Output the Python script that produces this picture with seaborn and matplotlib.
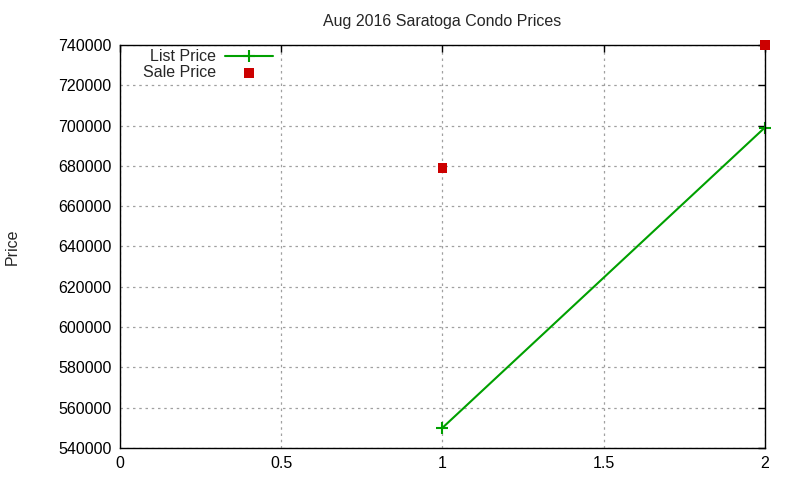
import matplotlib
matplotlib.use("Agg")
import matplotlib.pyplot as plt
import seaborn as sns
import pandas as pd
from matplotlib.ticker import FuncFormatter

x_list = [1, 2]
list_price = [550000, 699000]
x_sale = [1, 2]
sale_price = [679000, 740000]
title = "Aug 2016 Saratoga Condo Prices"
y_label = "Price"

sns.set_style("white")
plt.rcParams['font.family'] = ['Liberation Sans', 'DejaVu Sans']

fig = plt.figure(figsize=(8, 4.8), dpi=100)
ax = fig.add_axes([0.15, 0.0667, 0.806, 0.8396])

df_list = pd.DataFrame({"x": x_list, "y": list_price})
df_sale = pd.DataFrame({"x": x_sale, "y": sale_price})

sns.lineplot(data=df_list, x="x", y="y", ax=ax, color="#00a000", lw=1.5,
             marker="+", markersize=9, markeredgewidth=1.5, markeredgecolor="#00a000",
             clip_on=False)
sns.scatterplot(data=df_sale, x="x", y="y", ax=ax, color="#cc0000", marker="s", s=48,
                edgecolor="none", clip_on=False, zorder=5)

fs = 11.5
ax.set_xlim(0, 2)
ax.set_ylim(540000, 740000)
ax.set_xticks([0, 0.5, 1, 1.5, 2])
ax.set_yticks(range(540000, 740001, 20000))
ax.xaxis.set_major_formatter(FuncFormatter(lambda v, p: f"{v:g}"))
ax.yaxis.set_major_formatter(FuncFormatter(lambda v, p: f"{int(v)}"))
ax.tick_params(direction="in", length=5, width=1, top=True, right=True, labelsize=fs, colors="black", pad=6)
for s in ax.spines.values():
    s.set_color("black")
    s.set_linewidth(1)
ax.grid(True, color="#a0a0a0", linestyle=(0, (2, 3)), linewidth=0.9)
ax.set_axisbelow(True)
ax.set_xlabel("")
ax.set_ylabel(y_label, fontsize=fs)
ax.yaxis.set_label_coords(-0.155, 0.5)
ax.set_title(title, fontsize=fs, pad=14)

handles = [ax.lines[0], ax.collections[-1]]
leg = ax.legend(handles, ["List Price", "Sale Price"], loc="upper left", markerfirst=False,
                frameon=False, fontsize=fs, handlelength=3.0, borderaxespad=0.0,
                labelspacing=0.05, bbox_to_anchor=(0.025, 1.005), handletextpad=0.6)

fig.savefig("out.png", dpi=100)
